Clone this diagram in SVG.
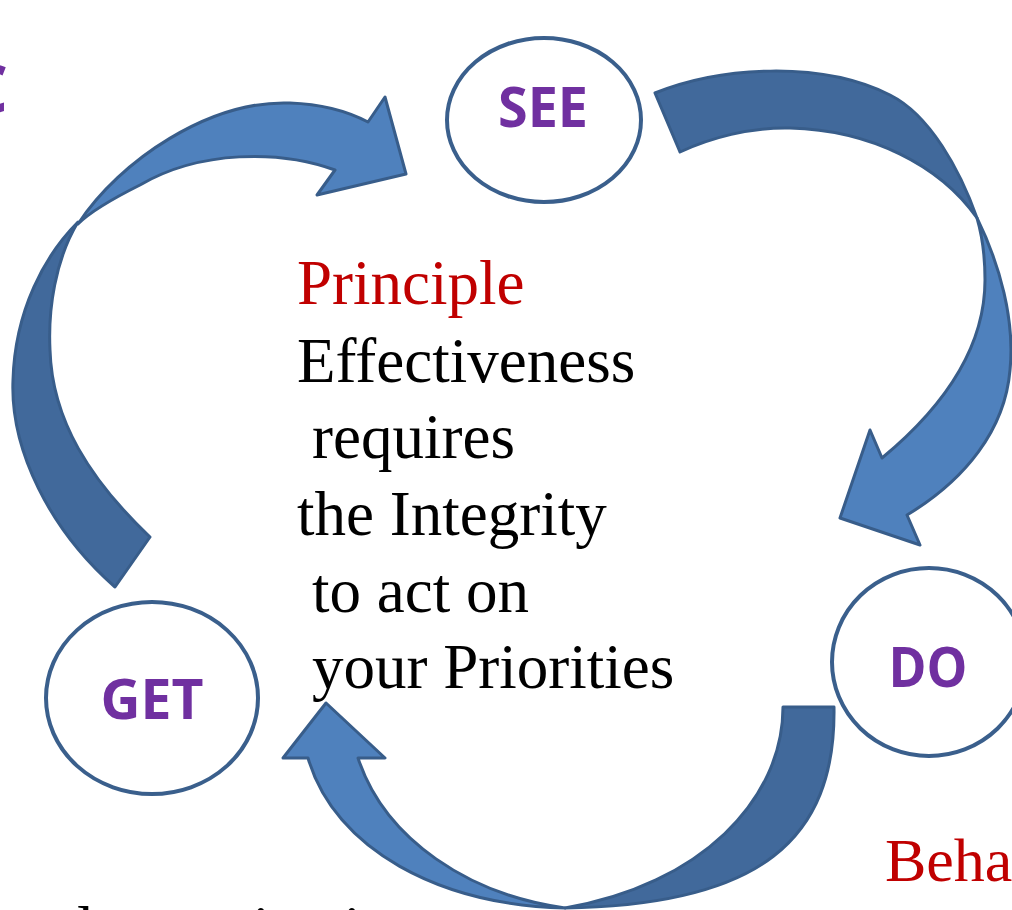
<svg xmlns="http://www.w3.org/2000/svg" width="1012" height="910" viewBox="0 0 1012 910">
  <style>
    .band-light { fill: #4F81BD; stroke: #385D8A; stroke-width: 3; stroke-linejoin: round; }
    .band-dark { fill: #41699B; stroke: #385D8A; stroke-width: 3; stroke-linejoin: round; }
    .stage { fill: #FFFFFF; stroke: #3A5F8C; stroke-width: 4; }
    .stage-label { font-family: "Open Sans", "Noto Sans", sans-serif; font-weight: 700; font-size: 56px; fill: #7030A0; text-anchor: middle; }
    .body { font-family: "Liberation Serif", "Times New Roman", serif; font-size: 63px; fill: #000000; }
    .accent { fill: #C00000; }
  </style>

  <rect width="1012" height="910" fill="#FFFFFF"/>

  <!-- cropped heading letter at the left edge -->
  <text x="8" y="113" text-anchor="end" style="font-family:'Open Sans','Noto Sans',sans-serif;font-weight:700;font-size:66px;fill:#7030A0">C</text>

  <!-- curved cycle arrows -->
  <g id="connectors">
    <!-- GET to SEE (left arc) -->
    <g id="arrow-get-see">
      <path class="band-dark" d="M115,587 C50,530 10,450 13,380 C15,310 45,255 78,222 C55,260 48,310 50,350 C52,420 90,480 150,537 Z"/>
      <path class="band-light" d="M78,224 C120,160 210,100 290,103 C320,104 345,110 368,122 L385,97 L406,174 L317,195 L335,170 C280,150 200,150 140,185 C110,200 90,212 78,224 Z"/>
    </g>
    <!-- SEE to DO (right arc) -->
    <g id="arrow-see-do">
      <path class="band-dark" d="M655,93 C720,67 820,60 890,95 C930,115 960,170 977,218 C940,165 870,130 790,128 C750,127 710,138 680,152 Z"/>
      <path class="band-light" d="M977,218 C1000,265 1015,320 1010,370 C1005,430 965,480 907,515 L920,545 L840,518 L870,430 L882,458 C940,410 985,350 985,280 C985,255 982,235 977,218 Z"/>
    </g>
    <!-- DO to GET (bottom arc) -->
    <g id="arrow-do-get">
      <path class="band-dark" d="M783,707 L834,707 C836,840 760,905 565,908 C700,885 783,800 783,707 Z"/>
      <path class="band-light" d="M565,908 C440,905 335,850 308,758 L283,758 L326,703 L385,758 L358,758 C385,840 470,895 565,908 Z"/>
    </g>
  </g>

  <g id="node-see">
    <ellipse class="stage" cx="544" cy="120" rx="97" ry="82"/>
    <text class="stage-label" x="543" y="127" textLength="90" lengthAdjust="spacingAndGlyphs">SEE</text>
  </g>

  <g id="node-do">
    <ellipse class="stage" cx="929" cy="662" rx="97" ry="94"/>
    <text class="stage-label" x="928" y="687" textLength="79" lengthAdjust="spacingAndGlyphs">DO</text>
  </g>

  <g id="node-get">
    <ellipse class="stage" cx="152" cy="698" rx="106" ry="96"/>
    <text class="stage-label" x="152" y="719" textLength="103" lengthAdjust="spacingAndGlyphs">GET</text>
  </g>

  <!-- central statement -->
  <g id="principle">
    <text class="body accent" x="297" y="304">Principle</text>
    <text class="body" x="297" y="382">Effectiveness</text>
    <text class="body" x="312" y="458">requires</text>
    <text class="body" x="297" y="535">the Integrity</text>
    <text class="body" x="312" y="612">to act on</text>
    <text class="body" x="312" y="688">your Priorities</text>
  </g>

  <!-- side captions, partly outside the frame -->
  <text class="body accent" x="885" y="881" style="font-size:62px">Behavior</text>
  <text class="body" x="77" y="950">l organization</text>
</svg>
